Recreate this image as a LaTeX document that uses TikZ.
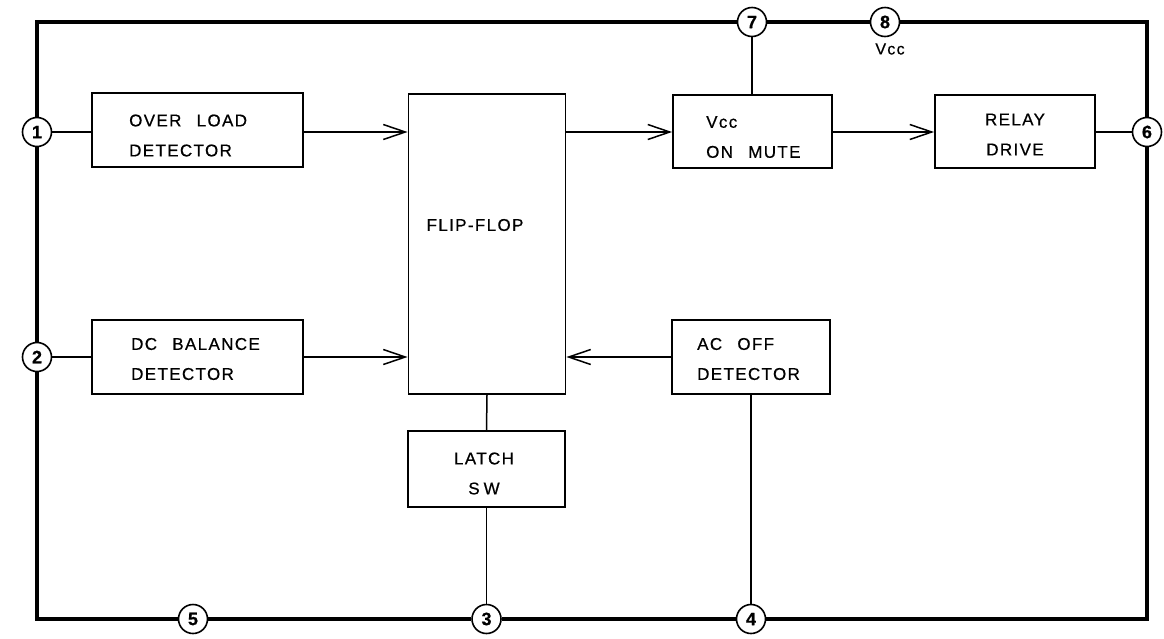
\documentclass[tikz,border=0pt]{standalone}
\usepackage{fontspec}
\setmainfont{Liberation Sans}[LetterSpace=8,WordSpace=2.5,FakeBold=0.6]
\usetikzlibrary{arrows.meta}
\begin{document}
\begin{tikzpicture}[x=1pt,y=-1pt,
 frame/.style={line width=3.4pt, line join=miter},
 blk/.style={draw, line width=1.8pt, inner sep=0pt},
 lbl/.style={inner sep=0pt, font=\fontsize{17}{30}\selectfont},
 pin/.style={circle, draw, line width=1.6pt, fill=white, minimum size=29pt, inner sep=0pt, font=\fontsize{18}{18}\selectfont\bfseries},
 wire/.style={line width=1.5pt},
 arr/.style={wire, -{Straight Barb[length=22pt,width=15pt,line width=1.5pt]}}]
\useasboundingbox (0,0) rectangle (1164,638);

% blocks
\node[blk, minimum width=211, minimum height=74] (old) at (197.5,130) {};
\node[blk, minimum width=211, minimum height=74] (dc) at (197.5,357) {};
\node[blk, minimum width=157, minimum height=300] (ff) at (487,244) {};
\node[blk, minimum width=159, minimum height=73] (vcc) at (752.5,131.5) {};
\node[blk, minimum width=160, minimum height=73] (relay) at (1015,131.5) {};
\node[blk, minimum width=158, minimum height=74] (ac) at (751,357) {};
\node[blk, minimum width=157, minimum height=76] (latch) at (486.5,469) {};

% texts
\node[lbl, anchor=west, align=left] (oldt) at (129,135.5) {OVER LOAD\\DETECTOR};
\node[lbl, anchor=west, align=left] (dct) at (131,359) {DC BALANCE\\DETECTOR};
\node[lbl] (fft) at (475,225) {FLIP-FLOP};
\node[lbl, anchor=west, align=left] (vcct) at (706,137) {Vcc\\ON MUTE};
\node[lbl, align=center] (relayt) at (1015,134.5) {RELAY\\DRIVE};
\node[lbl, anchor=west, align=left] (act) at (697,359) {AC OFF\\DETECTOR};
\node[lbl, align=center] (latcht) at (484,473.5) {LATCH\\S\hspace{4pt}W};

% pins
\node[pin] (p1) at (37,132) {1};
\node[pin] (p2) at (37,357) {2};
\node[pin] (p5) at (193,619) {5};
\node[pin] (p3) at (486.5,619) {3};
\node[pin] (p4) at (751,619) {4};
\node[pin] (p6) at (1147,132) {6};
\node[pin] (p7) at (752,22) {7};
\node[pin] (p8) at (885,22) {8};
\node[lbl, font=\fontsize{16}{16}\selectfont] (vcclbl) at (890,49) {Vcc};

\coordinate (tl) at (37,22);
\coordinate (tr) at (1147,22);
\coordinate (br) at (1147,619);
\coordinate (bl) at (37,619);

% frame
\draw[frame] (p1) -- (tl) -- (p7);
\draw[frame] (p7) -- (p8);
\draw[frame] (p8) -- (tr) -- (p6);
\draw[frame] (p6) -- (br) -- (p4);
\draw[frame] (p4) -- (p3);
\draw[frame] (p3) -- (p5);
\draw[frame] (p5) -- (bl) -- (p2);
\draw[frame] (p2) -- (p1);

% wires
\draw[wire] (p1) -- (p1 -| old.west);
\draw[wire] (p2) -- (dc.west);
\draw[arr] (old.east |- p1) -- (ff.west |- p1);
\draw[arr] (dc.east) -- (ff.west |- dc.east);
\draw[arr] (ff.east |- p1) -- (vcc.west |- p1);
\draw[arr] (vcc.east |- p1) -- (relay.west |- p1);
\draw[wire] (relay.east |- p6) -- (p6);
\draw[arr] (ac.west) -- (ff.east |- ac.west);
\draw[wire] (ff.south) -- (latch.north);
\draw[wire] (latch.south) -- (p3);
\draw[wire] (ac.south) -- (p4);
\draw[wire] (vcc.north -| p7) -- (p7);
\end{tikzpicture}
\end{document}
